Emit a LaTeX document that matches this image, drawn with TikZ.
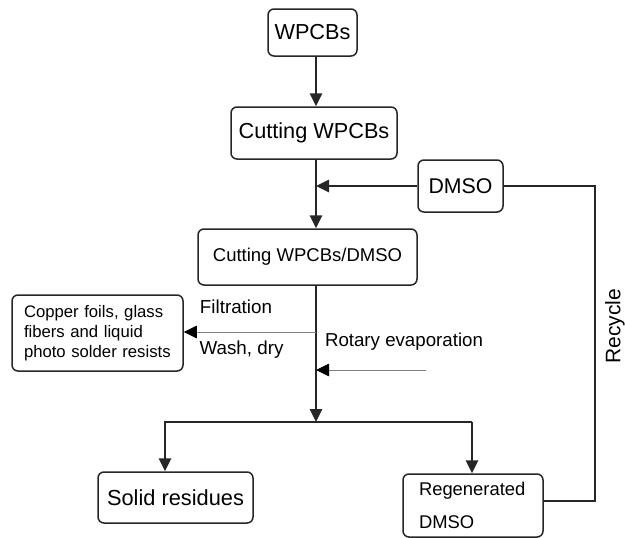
\documentclass[tikz,border=0pt]{standalone}
\usepackage{fontspec}
\setmainfont{Liberation Sans}
\usetikzlibrary{arrows.meta}
\tikzset{
  box/.style={draw=black!85, line width=1.5pt, rounded corners=6pt, inner sep=0pt, align=center},
  conn/.style={draw=black!85, line width=1.8pt, -{Triangle[width=12.5pt,length=13pt]}},
  thinarrow/.style={draw=black!50, line width=0.9pt, -{Triangle[width=12.5pt,length=13pt,color=black]}},
  plainline/.style={draw=black!85, line width=1.5pt},
  lbl/.style={inner sep=0pt}
}
\begin{document}
\begin{tikzpicture}[x=1pt,y=-1pt]
\useasboundingbox (0,0) rectangle (625,538);
\coordinate (t) at (316,0);
\node[box, minimum width=89pt, minimum height=47pt, font=\fontsize{21.7}{24}\selectfont] (wpcbs) at (312.5,32.5) {WPCBs};
\node[box, minimum width=166pt, minimum height=52pt, font=\fontsize{21.7}{24}\selectfont] (cut) at (314,133) {Cutting WPCBs};
\node[box, minimum width=85pt, minimum height=52pt, font=\fontsize{21.3}{24}\selectfont] (dmso) at (460.5,186) {DMSO};
\node[box, minimum width=219pt, minimum height=56pt, font=\fontsize{18.5}{22}\selectfont] (cutd) at (307.5,257) {Cutting WPCBs/DMSO};
\node[box, minimum width=171pt, minimum height=76pt, text width=147pt, align=left, font=\fontsize{16.7}{20}\selectfont] (copper) at (97.5,333) {Copper foils, glass\\fibers and liquid\\photo solder resists};
\node[box, minimum width=155pt, minimum height=51pt, font=\fontsize{21.8}{24}\selectfont] (solid) at (175.5,497.5) {Solid residues};
\node[box, minimum width=140pt, minimum height=63pt, text width=108pt, align=left, font=\fontsize{18.4}{33}\selectfont] (regen) at (473,505.5) {Regenerated\\DMSO};

\node[lbl, font=\fontsize{18.8}{22}\selectfont] (filt) at (236,307) {Filtration};
\node[lbl, font=\fontsize{18.8}{22}\selectfont] (wash) at (241.5,350) {Wash, dry};
\node[lbl, font=\fontsize{18.7}{22}\selectfont] (rot) at (404,342) {Rotary evaporation};
\node[lbl, font=\fontsize{21}{24}\selectfont, rotate=90] (rec) at (615,326) {Recycle};

\coordinate (j) at (316,422);
\coordinate (sl) at (165,422);
\coordinate (sr) at (472,422);
\coordinate (re) at (426,370);
\coordinate (rcx) at (595,0);

\draw[conn] (wpcbs.south -| t) -- (cut.north -| t);
\draw[conn] (cut.south -| t) -- (cutd.north -| t);
\draw[conn] (dmso.west) -- (dmso.west -| t);
\draw[conn] (cutd.south -| t) -- (j);
\draw[conn] (sr) -- (sl) -- (sl |- solid.north);
\draw[conn] (sr) -- (sr |- regen.north);
\draw[thinarrow] (t |- 0,332) -- (copper.east |- 0,332);
\draw[thinarrow] (re) -- (re -| t);
\draw[plainline] ([yshift=4.5pt]regen.east) -| (rcx |- dmso.east) -- (dmso.east);
\end{tikzpicture}
\end{document}
